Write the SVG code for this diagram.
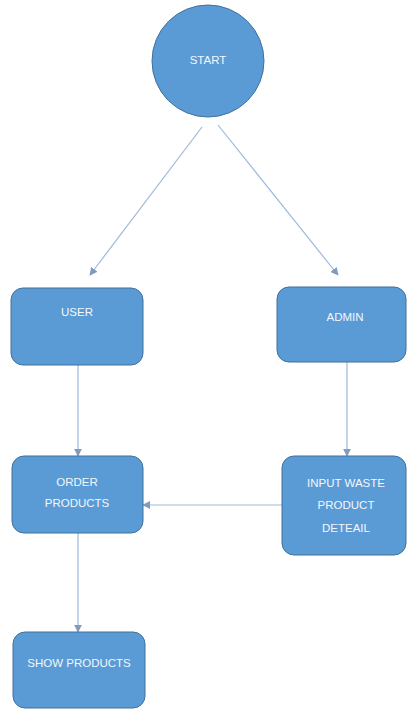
<svg xmlns="http://www.w3.org/2000/svg" width="408" height="709" viewBox="0 0 408 709">
<defs>
<style>
.node{fill:#5B9BD5;stroke:#41719C;stroke-width:1}
.lbl{fill:#F2F7FC;font-family:"Liberation Sans",Arial,sans-serif;font-size:11.5px;text-anchor:middle}
.edge{stroke:#9DB9DA;stroke-width:1.2;fill:none;marker-end:url(#ah)}
</style>
<marker id="ah" viewBox="0 0 10 10" refX="9" refY="5" markerWidth="8" markerHeight="8" markerUnits="userSpaceOnUse" orient="auto">
<path d="M0,0 L10,5 L0,10 z" fill="#7F9CBF"/>
</marker>
</defs>
<rect width="408" height="709" fill="#FFFFFF"/>
<g id="connectors">
<line class="edge" x1="202" y1="127" x2="90" y2="275"/>
<line class="edge" x1="218" y1="125" x2="338" y2="275"/>
<line class="edge" x1="78" y1="365" x2="78" y2="456"/>
<line class="edge" x1="347" y1="362" x2="347" y2="456"/>
<line class="edge" x1="282" y1="505" x2="143" y2="505"/>
<line class="edge" x1="78" y1="533" x2="78" y2="632"/>
</g>
<g id="start">
<circle class="node" cx="208" cy="61" r="56"/>
<text class="lbl" x="208" y="64">START</text>
</g>
<g id="user">
<rect class="node" x="11" y="288" width="132" height="77" rx="12"/>
<text class="lbl" x="77" y="316">USER</text>
</g>
<g id="admin">
<rect class="node" x="277" y="287" width="129" height="75" rx="12"/>
<text class="lbl" x="345" y="321">ADMIN</text>
</g>
<g id="order">
<rect class="node" x="12" y="456" width="131" height="77" rx="12"/>
<text class="lbl" x="77" y="486">ORDER</text>
<text class="lbl" x="77" y="507">PRODUCTS</text>
</g>
<g id="input">
<rect class="node" x="282" y="456" width="124" height="99" rx="12"/>
<text class="lbl" x="346" y="487">INPUT WASTE</text>
<text class="lbl" x="346" y="509">PRODUCT</text>
<text class="lbl" x="346" y="532">DETEAIL</text>
</g>
<g id="show">
<rect class="node" x="13" y="632" width="132" height="76" rx="12"/>
<text class="lbl" x="79" y="667">SHOW PRODUCTS</text>
</g>
</svg>
